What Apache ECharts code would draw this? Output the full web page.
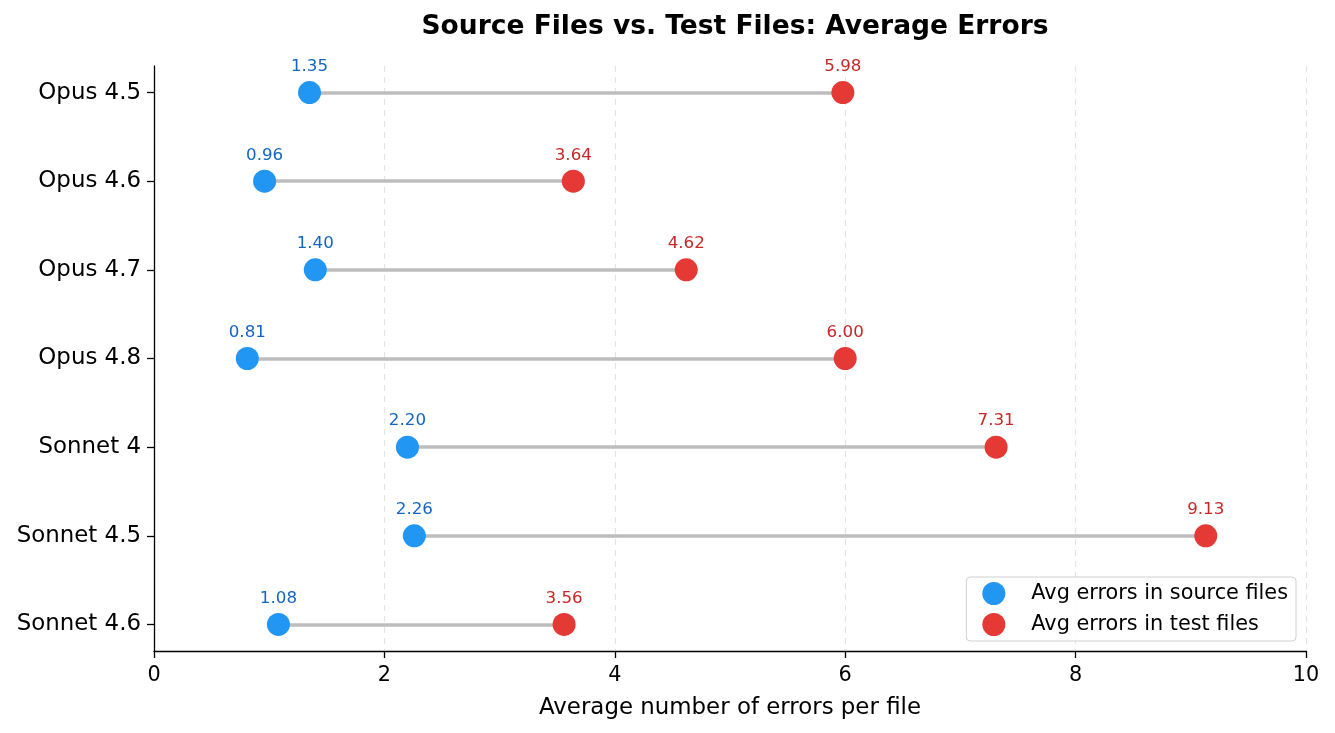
<!DOCTYPE html>
<html><head><meta charset="utf-8">
<script src="https://cdn.jsdelivr.net/npm/echarts@6/dist/echarts.min.js"></script>
<style>html,body{margin:0;padding:0;background:#fff}#c{width:1335px;height:733px}</style>
</head><body><div id="c"></div>
<script>
const models = ["Opus 4.5","Opus 4.6","Opus 4.7","Opus 4.8","Sonnet 4","Sonnet 4.5","Sonnet 4.6"];
const sourceErrors = [1.35,0.96,1.40,0.81,2.20,2.26,1.08];
const testErrors = [5.98,3.64,4.62,6.00,7.31,9.13,3.56];
const xTicks = [0,2,4,6,8,10];

const font = "DejaVu Sans";
const idx = models.map((_, i) => i);
const chart = echarts.init(document.getElementById('c'));
chart.setOption({
  animation: false,
  backgroundColor: '#fff',
  textStyle: {fontFamily: font},
  title: {
    text: 'Source Files vs. Test Files: Average Errors',
    left: 730, top: 9, textAlign: 'center',
    textStyle: {fontFamily: font, fontSize: 26.5, fontWeight: 'bold', color: '#000'}
  },
  grid: {left: 154, right: 29, top: 66, bottom: 82},
  legend: {
    orient: 'vertical', right: 39, bottom: 92,
    itemWidth: 23, itemHeight: 23, itemGap: 8,
    padding: [5, 8, 5, 16],
    borderColor: '#d0d0d0', borderWidth: 1, borderRadius: 4,
    backgroundColor: 'rgba(255,255,255,0.8)',
    textStyle: {fontFamily: font, fontSize: 20.8, color: '#000', padding: [0, 0, 0, 21]},
    data: [{name: 'Avg errors in source files', icon: 'circle'}, {name: 'Avg errors in test files', icon: 'circle'}]
  },
  xAxis: {
    type: 'value', min: 0, max: 10, interval: 2,
    name: 'Average number of errors per file', nameLocation: 'middle', nameGap: 46,
    nameTextStyle: {fontFamily: font, fontSize: 22.9, color: '#000'},
    axisLine: {show: true, onZero: false, lineStyle: {color: '#000', width: 1.3}},
    axisTick: {show: true, length: 7, lineStyle: {color: '#000', width: 1.3}},
    axisLabel: {fontFamily: font, fontSize: 20.8, color: '#000', margin: 14},
    splitLine: {show: true, lineStyle: {type: [6, 5], color: '#e4e4e4', width: 1.2}}
  },
  yAxis: {
    type: 'value', min: -0.3, max: 6.3, inverse: true,
    axisLine: {show: true, onZero: false, lineStyle: {color: '#000', width: 1.3}},
    axisTick: {show: true, length: 7, customValues: idx, lineStyle: {color: '#000', width: 1.3}},
    axisLabel: {fontFamily: font, fontSize: 22.9, color: '#000', margin: 13, customValues: idx,
      padding: [5, 0, 0, 0],
      formatter: v => models[Math.round(v)] || ''},
    splitLine: {show: false}
  },
  series: [
    {
      type: 'lines', coordinateSystem: 'cartesian2d', silent: true, z: 1,
      lineStyle: {color: '#bdbdbd', width: 3.5, opacity: 1},
      data: models.map((m, i) => ({coords: [[sourceErrors[i], i], [testErrors[i], i]]}))
    },
    {
      name: 'Avg errors in source files', type: 'scatter', symbolSize: 23, z: 3,
      itemStyle: {color: '#2196F3', opacity: 1},
      label: {show: true, position: 'top', distance: 6, fontFamily: font, fontSize: 16.7, color: '#1565C0',
        formatter: p => p.value[0].toFixed(2)},
      data: sourceErrors.map((v, i) => [v, i])
    },
    {
      name: 'Avg errors in test files', type: 'scatter', symbolSize: 23, z: 3,
      itemStyle: {color: '#E53935', opacity: 1},
      label: {show: true, position: 'top', distance: 6, fontFamily: font, fontSize: 16.7, color: '#C62828',
        formatter: p => p.value[0].toFixed(2)},
      data: testErrors.map((v, i) => [v, i])
    }
  ]
});
</script></body></html>
